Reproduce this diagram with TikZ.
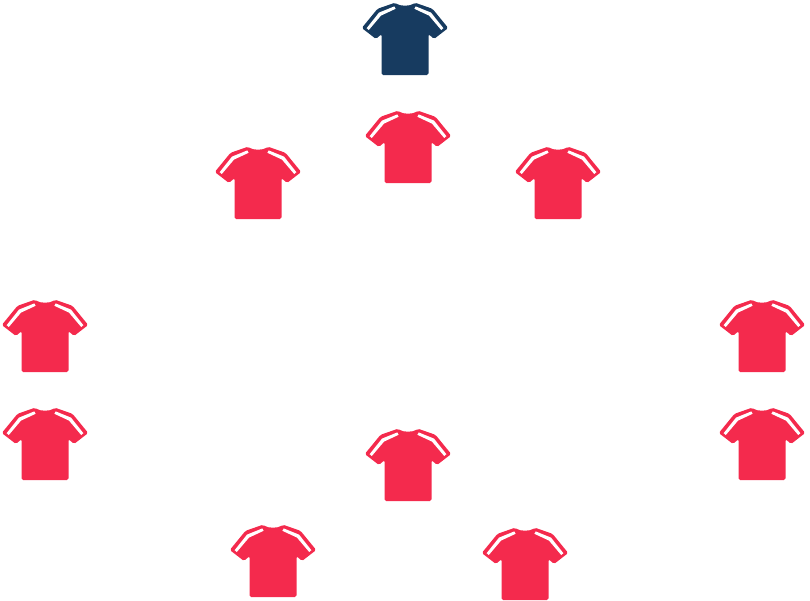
\documentclass[tikz,border=0pt]{standalone}
\definecolor{shirtred}{HTML}{F42A4D}
\definecolor{shirtnavy}{HTML}{173B60}
\tikzset{
  shirt/.pic={
    \fill[pic actions,rounded corners=1.6pt] (-10,-0.3) .. controls (-5,3.4) and (5,3.4) .. (10,-0.3)
      -- (27.5,5.8) -- (43.2,25) -- (29,36) -- (23.5,31) -- (23.5,72) -- (-23.5,72)
      -- (-23.5,31) -- (-29,36) -- (-43.2,25) -- (-27.5,5.8) -- cycle;
    \fill[white] (-10.7,3.4) -- (-26,9.6) -- (-38.4,25.2) -- (-36.2,27) -- (-24,12.6) -- (-9.4,5.8) -- cycle;
    \fill[white] (10.7,3.4) -- (26,9.6) -- (38.4,25.2) -- (36.2,27) -- (24,12.6) -- (9.4,5.8) -- cycle;
  },
  redshirt/.style={fill=shirtred},
  navyshirt/.style={fill=shirtnavy}
}
\begin{document}
\begin{tikzpicture}[x=1pt,y=-1pt]
  \useasboundingbox (0,0) rectangle (810,600);
  \pic[navyshirt] (keeper) at (405,3) {shirt};
  % outfield players
  \foreach \px/\py/\pname in {408/111/a,258/147/b,558/147/c,45/300/d,45/408/e,762/300/f,762/408/g,408/429/h,273/525/i,525/528/j}
    \pic[redshirt] (\pname) at (\px,\py) {shirt};
\end{tikzpicture}
\end{document}
